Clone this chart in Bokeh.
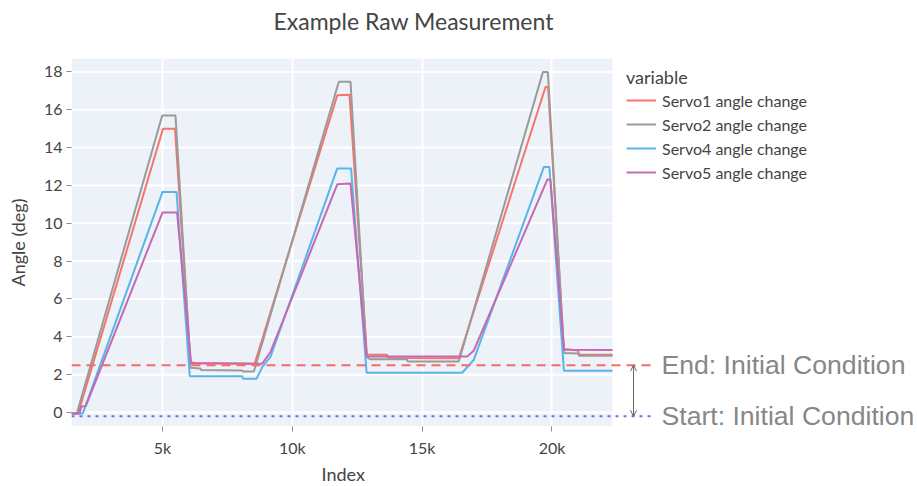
from bokeh.plotting import figure
from bokeh.models import (Range1d, FixedTicker, BoxAnnotation, Label, Legend,
                          LegendItem, Arrow, OpenHead, Title)
from bokeh.embed import file_html
from bokeh.resources import INLINE

# ---------------- data ----------------
chart_title = "Example Raw Measurement"
x_title = "Index"
y_title = "Angle (deg)"
legend_title = "variable"
series_names = ["Servo1 angle change", "Servo2 angle change",
                "Servo4 angle change", "Servo5 angle change"]
series_colors = ["#F8736A", "#9A9A9A", "#5AB4EC", "#C46AB2"]

servo1_idx = [1495, 1750, 5020, 5480, 6080, 6250, 8550, 11730, 12200, 12870,
              13650, 13700, 16410, 19750, 19850, 20460, 21000, 21050, 22330]
servo1_val = [-0.05, -0.05, 15.0, 15.0, 2.66, 2.62, 2.58, 16.77, 16.8, 3.07,
              3.05, 2.88, 2.87, 17.2, 17.2, 3.35, 3.28, 3.05, 3.05]

servo2_idx = [1495, 1700, 4990, 5500, 6080, 6450, 6500, 8070, 8100, 8520,
              11790, 12240, 12860, 13000, 14400, 14450, 16410, 19650, 19840,
              20460, 21000, 21050, 22330]
servo2_val = [-0.05, -0.05, 15.7, 15.7, 2.36, 2.33, 2.24, 2.22, 2.17, 2.17,
              17.48, 17.48, 2.93, 2.82, 2.82, 2.70, 2.70, 18.0, 18.0,
              3.14, 3.12, 3.0, 3.0]

servo4_idx = [1495, 1930, 5000, 5540, 6050, 8070, 8100, 8620, 8840, 9160,
              11730, 12260, 12860, 16540, 16990, 19690, 19900, 20460, 22330]
servo4_val = [-0.05, -0.05, 11.66, 11.66, 1.92, 1.92, 1.78, 1.78, 2.4, 2.95,
              12.9, 12.9, 2.1, 2.1, 2.79, 12.98, 12.98, 2.2, 2.2]

servo5_idx = [1495, 1800, 1870, 2050, 5000, 5560, 6100, 8840, 9160, 11730,
              12240, 12860, 16740, 16990, 19820, 19940, 20460, 22330]
servo5_val = [-0.05, -0.05, 0.3, 0.35, 10.57, 10.57, 2.6, 2.58, 3.2, 12.06,
              12.1, 2.96, 2.96, 3.28, 12.31, 12.31, 3.32, 3.3]

x_ticks = [5000, 10000, 15000, 20000]
x_tick_labels = ["5k", "10k", "15k", "20k"]
y_ticks = [0, 2, 4, 6, 8, 10, 12, 14, 16, 18]
y_limits = [-0.74, 18.71]

ref_levels = [2.5, -0.2]
ref_labels = ["End: Initial Condition", "Start: Initial Condition"]
ref_colors = ["#F86A6A", "#6E6EF5"]
ref_dashes = ["9 6", "3 5"]

# ---------------- layout geometry (pixels) ----------------
W, H = 917, 486
FRAME_LEFT, FRAME_TOP, FRAME_BOTTOM = 71, 58, 426
AREA_RIGHT = 612          # right edge of the plotting area
REF_END_PX = 650          # reference lines run past the plot area
ARROW_PX = 633
REF_TEXT_PX = 661
FONT = "Lato"
TXT = "#444444"

all_idx = servo1_idx + servo2_idx + servo4_idx + servo5_idx
x_min, x_max = min(all_idx), max(all_idx)
px_per_x = (AREA_RIGHT - FRAME_LEFT) / (x_max - x_min)


def x_at(px):
    return x_min + (px - FRAME_LEFT) / px_per_x


p = figure(width=W, height=H, output_backend="svg", toolbar_location=None, tools="",
           x_range=Range1d(x_min, x_at(W)), y_range=Range1d(*y_limits),
           min_border_left=FRAME_LEFT, min_border_top=FRAME_TOP,
           min_border_bottom=H - FRAME_BOTTOM, min_border_right=0,
           title=chart_title)
p.outline_line_color = None
p.background_fill_color = "white"
p.border_fill_color = "white"

# chart title (lifted above the frame by an empty spacer title)
p.title.align = "left"
p.title.offset = 202
p.title.vertical_align = "middle"
p.title.standoff = 0
p.title.text_font = FONT
p.title.text_font_size = "23px"
p.title.text_font_style = "normal"
p.title.text_color = TXT
p.add_layout(Title(text=" ", text_font=FONT, text_font_size="10px", standoff=9), "above")

# plotting area background
p.add_layout(BoxAnnotation(left=x_min, right=x_max, fill_color="#EDF1F8",
                           fill_alpha=1.0, line_color=None, level="image"))

# vertical grid (from axis ticks)
p.xgrid.ticker = FixedTicker(ticks=x_ticks)
p.xgrid.grid_line_color = "white"
p.xgrid.grid_line_width = 2
# horizontal grid restricted to plot area
p.ygrid.visible = False
p.segment(x0=[x_min] * len(y_ticks), x1=[x_max] * len(y_ticks), y0=y_ticks, y1=y_ticks,
          line_color="white", line_width=2, level="underlay")

# axes
p.xaxis.ticker = FixedTicker(ticks=x_ticks)
p.xaxis.major_label_overrides = {t: l for t, l in zip(x_ticks, x_tick_labels)}
p.yaxis.ticker = FixedTicker(ticks=y_ticks)
for ax in (p.xaxis[0], p.yaxis[0]):
    ax.axis_line_color = None
    ax.minor_tick_line_color = None
    ax.major_tick_in = 0
    ax.major_tick_out = 5
    ax.major_tick_line_color = "#8a8a8a"
    ax.major_label_text_font = FONT
    ax.major_label_text_font_size = "16px"
    ax.major_label_text_color = TXT
    ax.axis_label_text_font = FONT
    ax.axis_label_text_font_size = "18px"
    ax.axis_label_text_font_style = "normal"
    ax.axis_label_text_color = TXT
p.xaxis.major_label_standoff = 6
p.yaxis.major_label_standoff = 4
p.yaxis.axis_label = y_title
p.yaxis.axis_label_standoff = 12

# x-axis title, centred under the plotting area
p.add_layout(Title(text=x_title, align="left", offset=250, vertical_align="bottom",
                   standoff=3, text_font=FONT, text_font_size="18px",
                   text_font_style="normal", text_color=TXT), "below")

# series
series = [(servo1_idx, servo1_val), (servo2_idx, servo2_val),
          (servo4_idx, servo4_val), (servo5_idx, servo5_val)]
renderers = []
for (xs, ys), c in zip(series, series_colors):
    renderers.append(p.line(xs, ys, line_color=c, line_width=2))

# reference lines + labels
x_ref_end = x_at(REF_END_PX)
for lvl, lab, col, dash in zip(ref_levels, ref_labels, ref_colors, ref_dashes):
    p.line([x_min, x_ref_end], [lvl, lvl], line_color=col, line_width=2, line_dash=dash)
    p.add_layout(Label(x=x_at(REF_TEXT_PX), y=lvl, text=lab, text_align="left",
                       text_baseline="middle", text_font="Liberation Sans",
                       text_font_size="26.6px", text_color="#878787"))

p.add_layout(Arrow(x_start=x_at(ARROW_PX), y_start=ref_levels[1],
                   x_end=x_at(ARROW_PX), y_end=ref_levels[0],
                   line_color="#666666", line_width=1,
                   start=OpenHead(size=6, line_color="#666666", line_width=1),
                   end=OpenHead(size=6, line_color="#666666", line_width=1)))

# legend
legend = Legend(items=[LegendItem(label=n, renderers=[r]) for n, r in zip(series_names, renderers)],
                title=legend_title, location=(555, 244), orientation="vertical",
                border_line_color=None, background_fill_alpha=0, padding=0, margin=0,
                spacing=4, label_height=20, glyph_height=20, glyph_width=30,
                label_standoff=6, title_standoff=2,
                label_text_font=FONT, label_text_font_size="16px", label_text_color=TXT,
                title_text_font=FONT, title_text_font_size="18px",
                title_text_font_style="normal", title_text_color=TXT)
p.add_layout(legend)

open("out.html", "w").write(file_html(p, INLINE))
